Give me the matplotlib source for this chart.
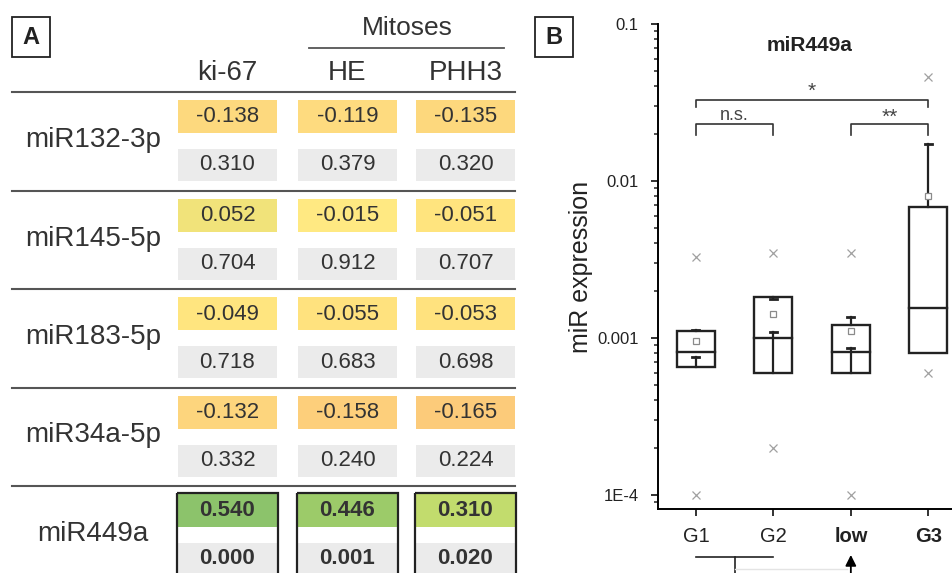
import matplotlib.pyplot as plt
from matplotlib.patches import Rectangle
import matplotlib.transforms as mtransforms
import numpy as np

plt.rcParams["font.family"] = ["Liberation Sans", "DejaVu Sans"]

# ---------------- Panel A: correlation table ----------------
mirnas = ["miR132-3p", "miR145-5p", "miR183-5p", "miR34a-5p", "miR449a"]
markers = ["ki-67", "HE", "PHH3"]
rho = [
    [-0.138, -0.119, -0.135],
    [0.052, -0.015, -0.051],
    [-0.049, -0.055, -0.053],
    [-0.132, -0.158, -0.165],
    [0.540, 0.446, 0.310],
]
p_values = [
    [0.310, 0.379, 0.320],
    [0.704, 0.912, 0.707],
    [0.718, 0.683, 0.698],
    [0.332, 0.240, 0.224],
    [0.000, 0.001, 0.020],
]
rho_colors = [
    ["#fdd97e", "#fedb7f", "#fdd87d"],
    ["#f1e37a", "#ffe982", "#ffe47e"],
    ["#ffe57f", "#ffe27e", "#ffe27e"],
    ["#fdd57d", "#fdcf7b", "#fccb7a"],
    ["#8cc36b", "#9ccb69", "#c2dc6d"],
]

# ---------------- Panel B: miR449a expression ----------------
groups = ["G1", "G2", "low", "G3"]
q1 = [0.00065, 0.00060, 0.00060, 0.00080]
median = [0.00081, 0.00100, 0.00081, 0.00155]
q3 = [0.00110, 0.00181, 0.00121, 0.00678]
mean = [0.00095, 0.00142, 0.00111, 0.00805]
err_hi = [0.00112, 0.00178, 0.00136, 0.0171]
err_lo = [0.00076, 0.00109, 0.00086, np.nan]
v_min = [0.00010, 0.00020, 0.00010, 0.00060]
v_max = [0.0033, 0.0035, 0.0035, 0.046]

text_col = "#333333"
line_col = "#222222"

fig = plt.figure(figsize=(9.52, 5.73), dpi=100)

# overlay in pixel units for the table
axA = fig.add_axes([0, 0, 1, 1])
axA.set_xlim(0, 952)
axA.set_ylim(573, 0)
axA.axis("off")

col_left = [178, 298, 416]
col_w = 99
row_h = 98.5
top = 92

# panel letters
for (x0, letter) in [(12, "A"), (535, "B")]:
    axA.add_patch(Rectangle((x0, 17), 38, 40, fill=False, ec=line_col, lw=1.3))
    axA.text(x0 + 19, 38, letter, ha="center", va="center", fontsize=17,
             fontweight="bold", color=line_col)

# headers
axA.text(407, 28, "Mitoses", ha="center", va="center", fontsize=19, color=text_col)
axA.plot([309, 504], [48, 48], color="#555555", lw=1.3)
for j, m in enumerate(markers):
    axA.text(col_left[j] + col_w / 2, 73, m, ha="center", va="center",
             fontsize=20, color=text_col)

for i, name in enumerate(mirnas):
    y0 = top + i * row_h
    axA.plot([12, 515], [y0, y0], color="#555555", lw=1.5)
    bold = i == len(mirnas) - 1
    axA.text(93, y0 + 48, name, ha="center", va="center", fontsize=20, color=text_col)
    for j in range(len(markers)):
        x0 = col_left[j]
        axA.add_patch(Rectangle((x0, y0 + 8), col_w, 33, color=rho_colors[i][j], lw=0))
        axA.add_patch(Rectangle((x0, y0 + 57), col_w, 32, color="#ebebeb", lw=0))
        axA.text(x0 + col_w / 2, y0 + 25, f"{rho[i][j]:.3f}", ha="center", va="center",
                 fontsize=16, color=text_col, fontweight="bold" if bold else "normal")
        axA.text(x0 + col_w / 2, y0 + 73, f"{p_values[i][j]:.3f}", ha="center", va="center",
                 fontsize=16, color=text_col, fontweight="bold" if bold else "normal")
        if bold:
            axA.add_patch(Rectangle((x0 - 1, y0 + 7), col_w + 2, 110, fill=False,
                                    ec=line_col, lw=1.6))

# ---------------- Panel B axes ----------------
ax = fig.add_axes([658 / 952, 1 - 509 / 573, 309 / 952, 485 / 573])
ax.set_yscale("log")
ax.set_xlim(0.51, 4.5)
ax.set_ylim(10 ** -4.09, 0.1)
x = np.arange(1, len(groups) + 1)

bw = 0.49
cw = 0.09
for k in range(len(groups)):
    xc = x[k]
    ax.add_patch(Rectangle((xc - bw / 2, q1[k]), bw, q3[k] - q1[k], fill=False,
                           ec=line_col, lw=1.7, zorder=3))
    ax.plot([xc - bw / 2, xc + bw / 2], [median[k], median[k]], color=line_col, lw=1.7, zorder=3)
    # upper error bar
    ax.plot([xc, xc], [q3[k], err_hi[k]], color=line_col, lw=1.6, zorder=3)
    ax.plot([xc - cw / 2, xc + cw / 2], [err_hi[k], err_hi[k]], color=line_col, lw=2, zorder=3)
    # lower error bar
    if not np.isnan(err_lo[k]):
        ax.plot([xc, xc], [q1[k], err_lo[k]], color=line_col, lw=1.6, zorder=3)
        ax.plot([xc - cw / 2, xc + cw / 2], [err_lo[k], err_lo[k]], color=line_col, lw=2, zorder=3)

ax.plot(x, mean, ls="none", marker="s", ms=5, mfc="white", mec="#8a8a8a", mew=0.9, zorder=4)
ax.plot(x, v_min, ls="none", marker="x", ms=6, color="#a0a0a0", mew=0.9)
ax.plot(x, v_max, ls="none", marker="x", ms=6, color="#a0a0a0", mew=0.9)


def bracket(xa, xb, y, leg, label, ty, size):
    ax.plot([xa, xa, xb, xb], [leg, y, y, leg], color="#333333", lw=1.2, clip_on=False)
    ax.text((xa + xb) / 2, ty, label, ha="center", va="center", fontsize=size, color="#444444")


bracket(1, 4, 0.0326, 0.0294, "*", 0.0375, 15)
bracket(1, 2, 0.0229, 0.0197, "n.s.", 0.0262, 13)
bracket(3, 4, 0.0229, 0.0197, "**", 0.0255, 15)

ax.text(2.47, 0.073, "miR449a", ha="center", va="center", fontsize=15,
        fontweight="bold", color=line_col)

# arrows below the axis
trans = mtransforms.blended_transform_factory(ax.transData, ax.transAxes)
ax.plot([1, 2], [-0.099, -0.099], color=line_col, lw=1.2, transform=trans, clip_on=False)
ax.plot([1.5, 1.5], [-0.099, -0.2], color=line_col, lw=1.2, transform=trans, clip_on=False)
ax.plot([1.5, 2.95], [-0.124, -0.124], color="#e4e4e4", lw=1.0, transform=trans, clip_on=False)
ax.annotate("", xy=(3, -0.089), xytext=(3, -0.2), xycoords=trans, textcoords=trans,
            arrowprops=dict(arrowstyle="-|>", color="black", lw=1.3, mutation_scale=16),
            annotation_clip=False)

ax.set_yticks([1e-4, 1e-3, 1e-2, 1e-1])
ax.set_yticklabels(["1E-4", "0.001", "0.01", "0.1"])
ax.set_xticks(x)
ax.set_xticklabels(groups)
for lbl in ax.get_xticklabels()[2:]:
    lbl.set_fontweight("bold")
ax.tick_params(axis="y", which="major", labelsize=12, length=5, width=1.3, pad=9, colors=line_col)
ax.tick_params(axis="y", which="minor", length=3, width=1.1, colors=line_col)
ax.tick_params(axis="x", labelsize=14.5, length=5, width=1.3, pad=8, colors=line_col)
ax.set_ylabel("miR expression", fontsize=18, color=line_col, labelpad=3)

ax.spines["top"].set_visible(False)
ax.spines["right"].set_visible(False)
ax.spines["left"].set_linewidth(1.4)
ax.spines["bottom"].set_linewidth(1.4)

plt.savefig("out.png", dpi=100)
